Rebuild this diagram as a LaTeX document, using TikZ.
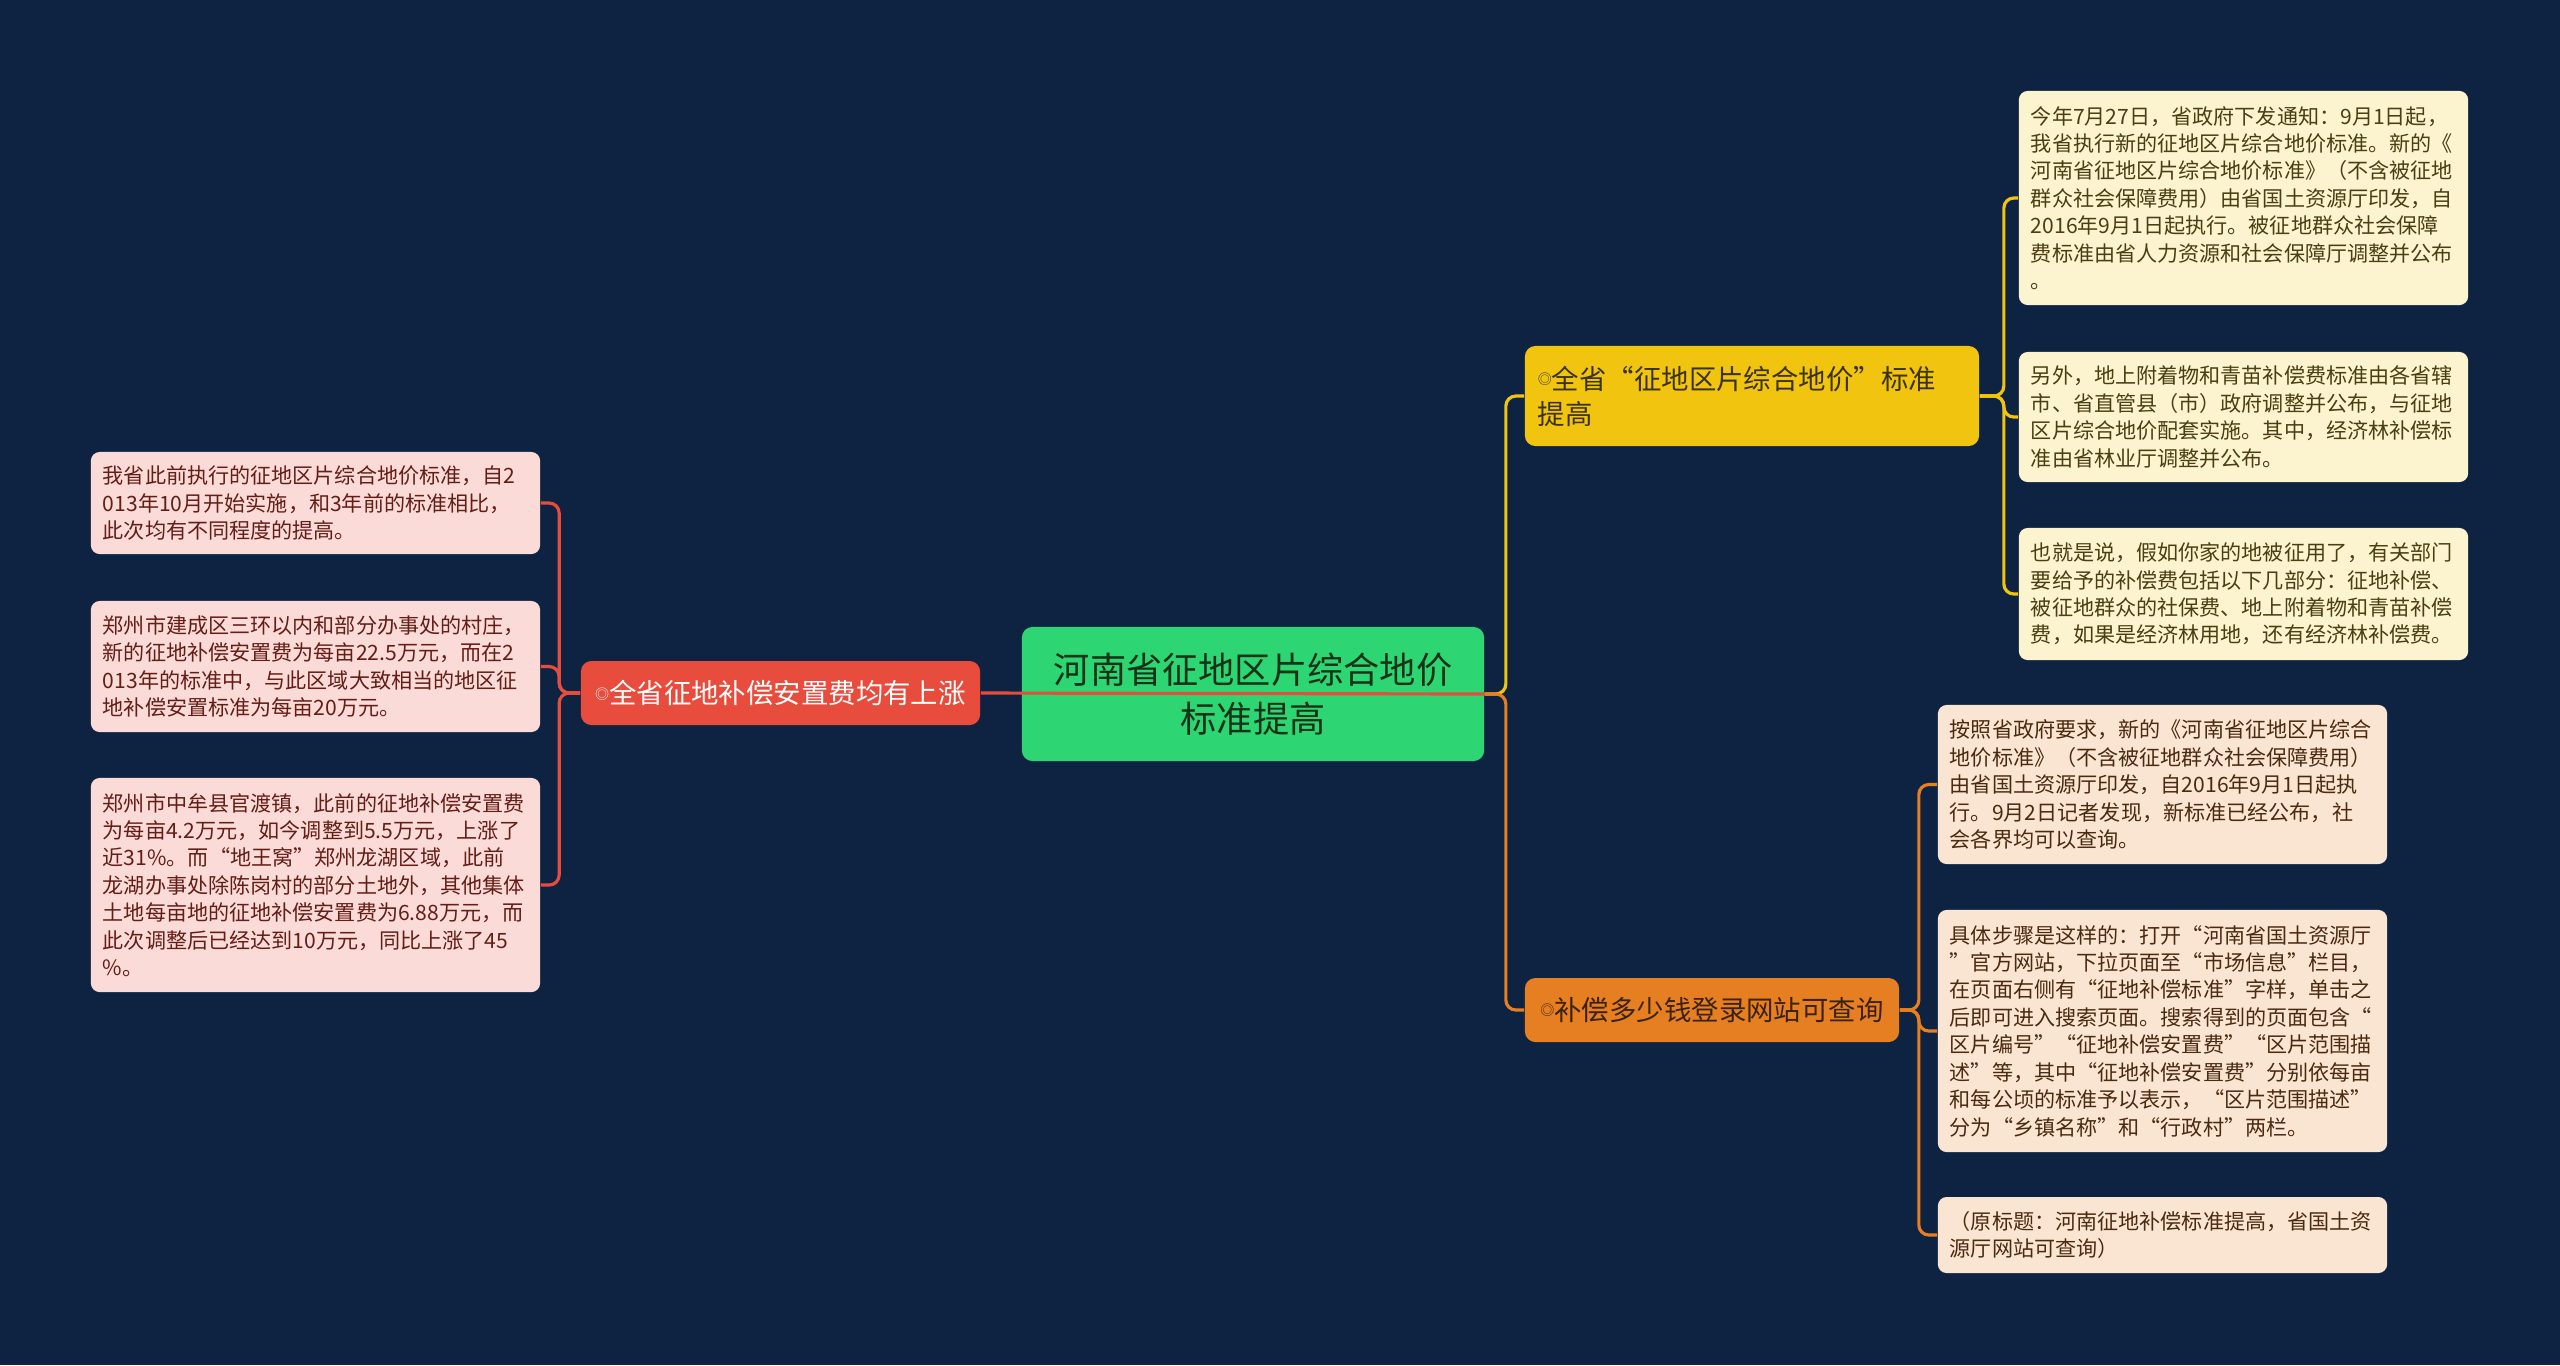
\documentclass[tikz,border=0pt]{standalone}
\usepackage{fontspec}
\setmainfont{Noto Sans CJK SC}
\usepackage{tikz}
\usetikzlibrary{positioning}
\definecolor{mapnavy}{HTML}{0E2341}
\definecolor{rootgreen}{HTML}{2ED573}
\definecolor{rootink}{HTML}{163318}
\definecolor{brred}{HTML}{E74C3C}
\definecolor{bryellow}{HTML}{F1C40F}
\definecolor{brorange}{HTML}{E67E22}
\definecolor{leafyellow}{HTML}{FCF3CF}
\definecolor{leaforange}{HTML}{FAE5D3}
\definecolor{leafpink}{HTML}{FADBD8}
\definecolor{inkyellow}{HTML}{4A3F12}
\definecolor{inkorange}{HTML}{4A2A10}
\definecolor{inkpink}{HTML}{641E16}
\newcommand{\ringmark}{\raisebox{0.3ex}{\fontsize{4pt}{4pt}\selectfont ◎}}

\begin{document}
\begin{tikzpicture}[x=0.01cm, y=-0.01cm,
    root/.style={fill=rootgreen, text=rootink, rounded corners=3pt, minimum width=4.62cm,
                 minimum height=1.34cm, align=center, font=\fontsize{10.3pt}{13.9pt}\selectfont},
    branch/.style={rounded corners=3pt, minimum height=0.64cm, inner xsep=0.12cm,
                   align=left, font=\fontsize{7.8pt}{10pt}\selectfont},
    leaf/.style={rounded corners=2.5pt, text width=4.25cm, inner xsep=0.12cm, inner ysep=0.08cm,
                 align=left, font=\fontsize{6pt}{7.8pt}\selectfont},
    link/.style={line width=0.9pt, rounded corners=0.1cm},
]
    \fill[mapnavy] (0,0) rectangle (2560,1365);
    \useasboundingbox (0,0) rectangle (2560,1365);

    \node[root] (root) at (1253,694) {河南省征地区片综合地价\\标准提高};

    \node[branch, fill=brred, text=white, minimum width=3.99cm] (raise) at (780.5,693)
        {\ringmark 全省征地补偿安置费均有上涨};
    \node[branch, fill=bryellow, text=inkyellow!80!black, minimum width=4.54cm,
          minimum height=1cm, text width=4.28cm] (price) at (1752,396)
        {\ringmark 全省“征地区片综合地价”标准\\提高};
    \node[branch, fill=brorange, text=inkorange!80!black, minimum width=3.74cm] (query) at (1712,1010)
        {\ringmark 补偿多少钱登录网站可查询};

    % yellow leaves
    \node[leaf, fill=leafyellow, text=inkyellow, minimum height=2.14cm] (notice) at (2243.5,198) {
        今年7月27日，省政府下发通知：9月1日起，\\
        我省执行新的征地区片综合地价标准。新的《\\
        河南省征地区片综合地价标准》（不含被征地\\
        群众社会保障费用）由省国土资源厅印发，自\\
        2016年9月1日起执行。被征地群众社会保障\\
        费标准由省人力资源和社会保障厅调整并公布\\
        。};
    \node[leaf, fill=leafyellow, text=inkyellow, minimum height=1.30cm] (crops) at (2243.5,417) {
        另外，地上附着物和青苗补偿费标准由各省辖\\
        市、省直管县（市）政府调整并公布，与征地\\
        区片综合地价配套实施。其中，经济林补偿标\\
        准由省林业厅调整并公布。};
    \node[leaf, fill=leafyellow, text=inkyellow, minimum height=1.32cm] (parts) at (2243.5,594) {
        也就是说，假如你家的地被征用了，有关部门\\
        要给予的补偿费包括以下几部分：征地补偿、\\
        被征地群众的社保费、地上附着物和青苗补偿\\
        费，如果是经济林用地，还有经济林补偿费。};

    % orange leaves
    \node[leaf, fill=leaforange, text=inkorange, minimum height=1.59cm] (issued) at (2162.5,784.5) {
        按照省政府要求，新的《河南省征地区片综合\\
        地价标准》（不含被征地群众社会保障费用）\\
        由省国土资源厅印发，自2016年9月1日起执\\
        行。9月2日记者发现，新标准已经公布，社\\
        会各界均可以查询。};
    \node[leaf, fill=leaforange, text=inkorange, minimum height=2.42cm] (steps) at (2162.5,1031) {
        具体步骤是这样的：打开“河南省国土资源厅\\
        ”官方网站，下拉页面至“市场信息”栏目，\\
        在页面右侧有“征地补偿标准”字样，单击之\\
        后即可进入搜索页面。搜索得到的页面包含“\\
        区片编号”“征地补偿安置费”“区片范围描\\
        述”等，其中“征地补偿安置费”分别依每亩\\
        和每公顷的标准予以表示，“区片范围描述”\\
        分为“乡镇名称”和“行政村”两栏。};
    \node[leaf, fill=leaforange, text=inkorange, minimum height=0.76cm] (source) at (2162.5,1235) {
        （原标题：河南征地补偿标准提高，省国土资\\
        源厅网站可查询）};

    % pink leaves
    \node[leaf, fill=leafpink, text=inkpink, minimum height=1.02cm] (before) at (315.5,503) {
        我省此前执行的征地区片综合地价标准，自2\\
        013年10月开始实施，和3年前的标准相比，\\
        此次均有不同程度的提高。};
    \node[leaf, fill=leafpink, text=inkpink, minimum height=1.31cm] (ring) at (315.5,666.5) {
        郑州市建成区三环以内和部分办事处的村庄，\\
        新的征地补偿安置费为每亩22.5万元，而在2\\
        013年的标准中，与此区域大致相当的地区征\\
        地补偿安置标准为每亩20万元。};
    \node[leaf, fill=leafpink, text=inkpink, minimum height=2.14cm] (zhongmu) at (315.5,885) {
        郑州市中牟县官渡镇，此前的征地补偿安置费\\
        为每亩4.2万元，如今调整到5.5万元，上涨了\\
        近31\%。而“地王窝”郑州龙湖区域，此前\\
        龙湖办事处除陈岗村的部分土地外，其他集体\\
        土地每亩地的征地补偿安置费为6.88万元，而\\
        此次调整后已经达到10万元，同比上涨了45\\
        \%。};

    % connectors
    \draw[link, brred] (raise.east) -- (root.east);
    \draw[link, bryellow] (root.east) -- ++(21,0) |- (price.west);
    \draw[link, brorange] (root.east) -- ++(21,0) |- (query.west);
    \foreach \leafname in {notice, crops, parts}
        \draw[link, bryellow] (price.east) -- ++(24,0) |- (\leafname.west);
    \foreach \leafname in {issued, steps, source}
        \draw[link, brorange] (query.east) -- ++(19,0) |- (\leafname.west);
    \foreach \leafname in {before, ring, zhongmu}
        \draw[link, brred] (raise.west) -- ++(-21,0) |- (\leafname.east);
\end{tikzpicture}
\end{document}
